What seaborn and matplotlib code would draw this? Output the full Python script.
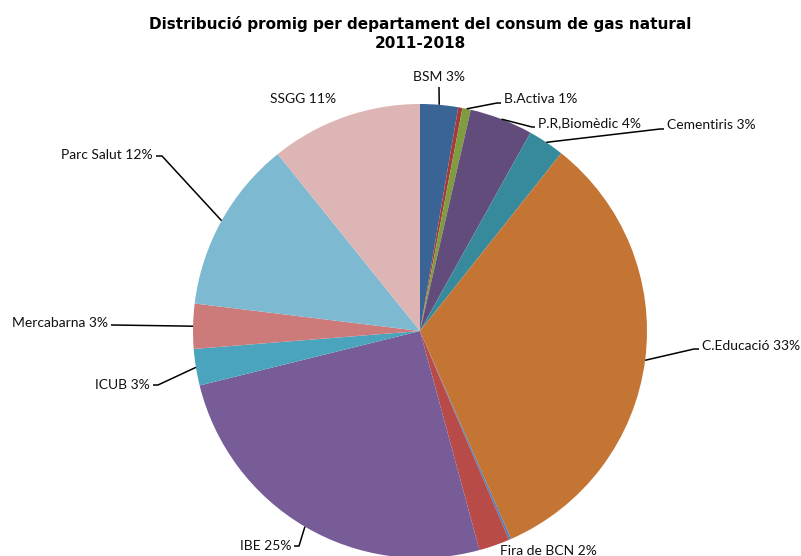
import numpy as np
import matplotlib
matplotlib.use("Agg")
import matplotlib.pyplot as plt
import seaborn as sns

sns.set_style("white")
plt.rcParams['font.family'] = ['Lato', 'DejaVu Sans']

# Average share of natural gas consumption per department (%), clockwise from 12 o'clock
departments = ["BSM", "Altres A", "B.Activa", "P.R,Biomèdic", "Cementiris",
               "C.Educació", "Altres B", "Fira de BCN", "IBE", "ICUB",
               "Mercabarna", "Parc Salut", "SSGG"]
shares = [2.7, 0.3, 0.6, 4.5, 2.6, 32.8, 0.15, 2.2, 25.4, 2.6, 3.2, 12.3, 10.8]
pct_labels = ["3%", "", "1%", "4%", "3%", "33%", "", "2%", "25%", "3%",
              "3%", "12%", "11%"]
colors = ["#3B6496", "#A33B3B", "#7F9C3F", "#624C7C", "#378A9C", "#C47534",
          "#4F7FBA", "#B84A48", "#775C98", "#4AA4BD", "#CC7B7A", "#7DB9D1",
          "#DDB5B5"]

W, H = 801, 556


def px(x, y):
    # pixel coords (top-left origin) -> data coords
    return x, H - y


# label placement: text x, y, alignment, elbow point (None = no leader)
label_pos = {
    "BSM": (439, 77, "center", (439, 87)),
    "B.Activa": (504, 99, "left", (497, 103)),
    "P.R,Biomèdic": (538, 123, "left", (532, 127)),
    "Cementiris": (667, 125, "left", (660, 129)),
    "C.Educació": (702, 346, "left", (694, 349)),
    "Fira de BCN": (500, 551, "left", None),
    "IBE": (291, 546, "right", (299, 546)),
    "ICUB": (150, 385, "right", (158, 385)),
    "Mercabarna": (108, 323, "right", (113, 325)),
    "Parc Salut": (153, 155, "right", (162, 156)),
    "SSGG": (303, 99, "center", None),
}

fig = plt.figure(figsize=(W / 100, H / 100), dpi=100)
ax = fig.add_axes([0, 0, 1, 1])

cx, cy = px(420, 331)
radius = 227
wedges, _ = ax.pie(shares, colors=colors, startangle=90, counterclock=False,
                   center=(cx, cy), radius=radius,
                   wedgeprops=dict(linewidth=0))
ax.set_xlim(0, W)
ax.set_ylim(0, H)
ax.set_aspect('equal')
ax.axis('off')

for w, name, pct in zip(wedges, departments, pct_labels):
    if name not in label_pos:
        continue
    tx, ty, ha, elbow = label_pos[name]
    ax.text(*px(tx, ty), f"{name} {pct}", ha=ha, va="center",
            fontsize=10, color="#111111")
    if elbow is None:
        continue
    mid = np.deg2rad((w.theta1 + w.theta2) / 2)
    sx, sy = cx + radius * np.cos(mid), cy + radius * np.sin(mid)
    ex, ey = px(*elbow)
    off = -3 if ha == "left" else 3
    if ha == "center":
        xs, ys = [sx, ex], [sy, ey]
    else:
        xs, ys = [sx, ex, tx + off], [sy, ey, ey]
    ax.plot(xs, ys, color="black", linewidth=1.1, solid_capstyle="butt")

fig.text(420 / W, 1 - 24 / H, "Distribució promig per departament del consum de gas natural",
         ha="center", va="center", fontsize=11, fontweight="bold",
         family="DejaVu Sans", color="black")
fig.text(420 / W, 1 - 43 / H, "2011-2018", ha="center", va="center",
         fontsize=11, fontweight="bold", family="DejaVu Sans", color="black")

fig.savefig("out.png", dpi=100)
